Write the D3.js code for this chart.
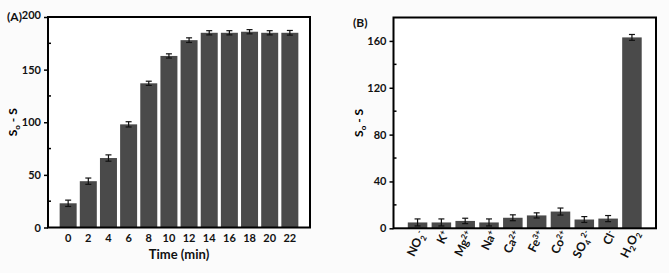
<!DOCTYPE html>
<html>
<head>
<meta charset="utf-8">
<script src="https://cdn.jsdelivr.net/npm/d3@7"></script>
<style>
  body { margin: 0; background: #fbfbfb; }
  svg { display: block; font-family: Lato, "Open Sans", sans-serif; font-weight: bold; }
</style>
</head>
<body>
<svg id="chart" width="669" height="273"></svg>
<script>
// Panel A data
const times = [0, 2, 4, 6, 8, 10, 12, 14, 16, 18, 20, 22];
const responseA = [23, 44, 66, 98, 137, 163, 178, 185, 185, 186, 185, 185];
const errA = [3, 3, 3, 2.5, 2, 2, 2.2, 2, 2, 2, 2, 2.2];
const ticksA = [0, 50, 100, 150, 200];

// Panel B data
const ions = ["NO2-", "K+", "Mg2+", "Na+", "Ca2+", "Fe3+", "Co2+", "SO42-", "Cl-", "H2O2"];
const responseB = [5, 5, 6.3, 5, 9, 11, 14.3, 7.5, 8.3, 163];
const errB = [3, 3, 2.3, 3, 2.5, 2.2, 3, 2.5, 2.6, 2.5];
const ticksB = [0, 40, 80, 120, 160];

// ion labels as [text, offset] pieces (offset: 0 normal, 1 sub, -1 super)
const ionParts = {
  "NO2-": [["NO", 0], ["2", 1], ["-", -1]],
  "K+": [["K", 0], ["+", -1]],
  "Mg2+": [["Mg", 0], ["2+", -1]],
  "Na+": [["Na", 0], ["+", -1]],
  "Ca2+": [["Ca", 0], ["2+", -1]],
  "Fe3+": [["Fe", 0], ["3+", -1]],
  "Co2+": [["Co", 0], ["2+", -1]],
  "SO42-": [["SO", 0], ["4", 1], ["2-", -1]],
  "Cl-": [["Cl", 0], ["-", -1]],
  "H2O2": [["H", 0], ["2", 1], ["O", 0], ["2", 1]]
};

const barColor = "#4a4a4a";
let svg = d3.select("#chart");

// y axis title with subscript
function yTitle(g, x, y) {
  let t = g.append("g").attr("transform", `translate(${x},${y})`)
    .append("text")
    .attr("transform", "rotate(-90)")
    .attr("text-anchor", "middle")
    .attr("font-size", 12);
  t.append("tspan").text("S");
  t.append("tspan").attr("font-size", 8).attr("dy", 3).text("o");
  t.append("tspan").attr("dy", -3).text(" - S");
}

function drawErr(g, cx, yv, e, y) {
  let w = 3;
  g.append("line").attr("x1", cx).attr("x2", cx).attr("y1", y(yv - e)).attr("y2", y(yv + e));
  g.append("line").attr("x1", cx - w).attr("x2", cx + w).attr("y1", y(yv - e)).attr("y2", y(yv - e));
  g.append("line").attr("x1", cx - w).attr("x2", cx + w).attr("y1", y(yv + e)).attr("y2", y(yv + e));
}

// ---------- Panel A ----------
{
  const left = 48, right = 310, top = 17, bottom = 227.5;
  let x = d3.scaleLinear().domain([-2, 24]).range([left, right]);
  let y = d3.scaleLinear().domain([0, 200]).range([bottom, top]);
  let bw = 17;
  let g = svg.append("g");
  g.append("rect").attr("x", left).attr("y", top).attr("width", right - left).attr("height", bottom - top).attr("fill", "#fff");

  g.selectAll(".barA")
    .data(times)
    .join("rect")
      .attr("x", (d) => x(d) - bw / 2)
      .attr("y", (d, i) => y(responseA[i]))
      .attr("width", bw)
      .attr("height", (d, i) => y(0) - y(responseA[i]))
      .attr("fill", barColor);

  let eg = g.append("g").attr("stroke", "#111").attr("stroke-width", 1.2);
  times.forEach((t, i) => drawErr(eg, x(t), responseA[i], errA[i], y));

  // frame
  g.append("rect").attr("x", left).attr("y", top).attr("width", right - left).attr("height", bottom - top)
    .attr("fill", "none").attr("stroke", "#000").attr("stroke-width", 2);

  // y axis
  let ay = g.append("g").attr("transform", `translate(${left},0)`)
    .call(d3.axisLeft(y).tickValues(ticksA).tickSize(4).tickPadding(3));
  ay.select(".domain").remove();
  ay.selectAll("line").attr("stroke-width", 1.5);
  ay.selectAll("text").attr("font-size", 11).attr("font-family", "Lato").attr("font-weight", "bold").attr("fill", "#111");
  ay.selectAll(".tick").filter((d) => d == 200).select("text").attr("dy", "0.1em");
  g.selectAll(".minorA").data([25, 75, 125, 175]).join("line")
    .attr("x1", left).attr("x2", left + 3).attr("y1", (d) => y(d)).attr("y2", (d) => y(d))
    .attr("stroke", "#000").attr("stroke-width", 1.5);

  // x tick labels
  g.selectAll(".xl").data(times).join("text")
    .attr("x", (d) => x(d)).attr("y", bottom + 14)
    .attr("text-anchor", "middle").attr("font-size", 11).attr("fill", "#111")
    .text((d) => d);

  g.append("text").attr("x", (left + right) / 2).attr("y", bottom + 31)
    .attr("text-anchor", "middle").attr("font-size", 13).attr("fill", "#111").text("Time (min)");
  yTitle(g, 17, (top + bottom) / 2);
  g.append("text").attr("x", 7).attr("y", 21).attr("font-size", 12).attr("fill", "#111").text("(A)");
}

// ---------- Panel B ----------
{
  const left = 393.5, right = 656, top = 17.5, bottom = 228.3;
  let x = d3.scaleBand().domain(ions).range([left, right]).paddingInner(0.18).paddingOuter(0.6);
  let y = d3.scaleLinear().domain([0, 180]).range([bottom, top]);
  let g = svg.append("g");
  g.append("rect").attr("x", left).attr("y", top).attr("width", right - left).attr("height", bottom - top).attr("fill", "#fff");

  g.selectAll(".barB")
    .data(ions)
    .join("rect")
      .attr("x", (d) => x(d))
      .attr("y", (d, i) => y(responseB[i]))
      .attr("width", x.bandwidth())
      .attr("height", (d, i) => y(0) - y(responseB[i]))
      .attr("fill", barColor);

  let eg = g.append("g").attr("stroke", "#111").attr("stroke-width", 1.2);
  ions.forEach((c, i) => drawErr(eg, x(c) + x.bandwidth() / 2, responseB[i], errB[i], y));

  g.append("rect").attr("x", left).attr("y", top).attr("width", right - left).attr("height", bottom - top)
    .attr("fill", "none").attr("stroke", "#000").attr("stroke-width", 2);

  let ay = g.append("g").attr("transform", `translate(${left},0)`)
    .call(d3.axisLeft(y).tickValues(ticksB).tickSize(4).tickPadding(3));
  ay.select(".domain").remove();
  ay.selectAll("line").attr("stroke-width", 1.5);
  ay.selectAll("text").attr("font-size", 11).attr("font-family", "Lato").attr("font-weight", "bold").attr("fill", "#111");
  g.selectAll(".minorB").data([20, 60, 100, 140]).join("line")
    .attr("x1", left).attr("x2", left + 3).attr("y1", (d) => y(d)).attr("y2", (d) => y(d))
    .attr("stroke", "#000").attr("stroke-width", 1.5);

  // rotated ion labels
  ions.forEach((c) => {
    let cx = x(c) + x.bandwidth() / 2 + 8;
    let t = g.append("g")
      .attr("transform", `translate(${cx},${bottom + 5})`)
      .append("text")
      .attr("transform", "rotate(-64)")
      .attr("text-anchor", "end").attr("font-size", 12).attr("fill", "#111");
    let prev = 0;
    for (let [s, off] of ionParts[c]) {
      let shift = off == 1 ? 3 : off == -1 ? -4 : 0;
      let sp = t.append("tspan").attr("dy", shift - prev).text(s);
      if (off != 0) sp.attr("font-size", 8);
      prev = shift;
    }
  });

  yTitle(g, 363, (top + bottom) / 2);
  g.append("text").attr("x", 353).attr("y", 27).attr("font-size", 12).attr("fill", "#111").text("(B)");
}
</script>
</body>
</html>
